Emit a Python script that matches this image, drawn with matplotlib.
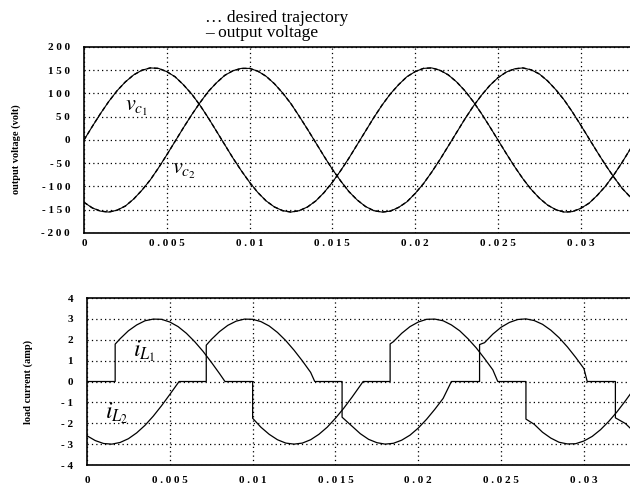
import matplotlib.pyplot as plt

# time axis (s), 0.5 ms steps, for the voltages
t = [i * 0.0005 for i in range(67)]

vc1 = [0, 29, 57, 83, 106, 125, 140, 150, 155, 154, 147, 136, 119, 99, 75, 48, 19,
       -10, -39, -66, -91, -113, -131, -144, -152, -155, -152, -144, -131, -113, -91,
       -66, -39, -10, 19, 48, 75, 99, 119, 136, 147, 154, 155, 150, 140, 125, 106, 83,
       57, 29, 0, -29, -57, -83, -106, -125, -140, -150, -155, -154, -147, -136, -119,
       -99, -75, -48, -19]
vc2 = [-134, -146, -153, -155, -151, -142, -127, -108, -86, -60, -32, -3, 26, 54, 80,
       104, 123, 139, 149, 154, 154, 148, 137, 121, 101, 78, 51, 23, -6, -35, -63, -88,
       -111, -129, -143, -152, -155, -153, -145, -133, -115, -94, -69, -42, -13, 16, 45,
       72, 96, 117, 134, 146, 153, 155, 151, 142, 127, 108, 86, 60, 32, 3, -26, -54, -80,
       -104, -123]

# load currents (with the zero hold after each crossing)
t_i1 = [0, 0.0017, 0.0017, 0.002, 0.0025, 0.003, 0.0035, 0.004, 0.0045, 0.005, 0.0055,
        0.006, 0.0065, 0.007, 0.0075, 0.008, 0.00833, 0.0100, 0.0100, 0.0105, 0.011,
        0.0115, 0.012, 0.0125, 0.013, 0.0135, 0.014, 0.0145, 0.015, 0.0155, 0.016,
        0.0165, 0.01667, 0.0183, 0.0183, 0.0185, 0.019, 0.0195, 0.02, 0.0205, 0.021,
        0.0215, 0.022, 0.0225, 0.023, 0.0235, 0.024, 0.0245, 0.0248, 0.0265, 0.0265,
        0.027, 0.0275, 0.028, 0.0285, 0.029, 0.0295, 0.03, 0.0305, 0.031, 0.0315, 0.032,
        0.0325, 0.033]
i1 = [0, 0, 1.79, 2.05, 2.43, 2.71, 2.91, 2.99, 2.98, 2.85, 2.63, 2.31, 1.91, 1.45, 0.93,
      0.38, 0, 0, -1.76, -2.19, -2.53, -2.79, -2.95, -3.0, -2.95, -2.79, -2.53, -2.19,
      -1.76, -1.28, -0.75, -0.19, 0, 0, 1.80, 1.91, 2.31, 2.63, 2.85, 2.98, 2.99, 2.91,
      2.71, 2.43, 2.05, 1.61, 1.10, 0.56, 0, 0, -1.80, -2.05, -2.43, -2.71, -2.91, -2.99,
      -2.98, -2.85, -2.63, -2.31, -1.91, -1.45, -0.93, -0.38]

t_i2 = [0, 0.0005, 0.001, 0.0015, 0.002, 0.0025, 0.003, 0.0035, 0.004, 0.0045, 0.005,
        0.00556, 0.0072, 0.0072, 0.0075, 0.008, 0.0085, 0.009, 0.0095, 0.01, 0.0105,
        0.011, 0.0115, 0.012, 0.0125, 0.013, 0.0135, 0.01375, 0.0154, 0.0154, 0.016,
        0.0165, 0.017, 0.0175, 0.018, 0.0185, 0.019, 0.0195, 0.02, 0.0205, 0.021, 0.0215,
        0.022, 0.0237, 0.0237, 0.024, 0.0245, 0.025, 0.0255, 0.026, 0.0265, 0.027,
        0.0275, 0.028, 0.0285, 0.029, 0.0295, 0.03, 0.0302, 0.0319, 0.0319, 0.0325, 0.033]
i2 = [-2.60, -2.83, -2.97, -3.0, -2.92, -2.74, -2.46, -2.10, -1.66, -1.16, -0.62, 0, 0,
      1.74, 2.01, 2.39, 2.69, 2.89, 2.99, 2.98, 2.87, 2.66, 2.35, 1.96, 1.50, 0.99, 0.44,
      0, 0, -1.71, -2.14, -2.50, -2.77, -2.93, -3.0, -2.96, -2.81, -2.57, -2.23, -1.81,
      -1.33, -0.81, 0, 0, 1.77, 1.86, 2.27, 2.60, 2.83, 2.97, 3.0, 2.92, 2.74, 2.46, 2.10,
      1.66, 1.16, 0.62, 0, 0, -1.74, -2.01, -2.39]

xticks = [0, 0.005, 0.01, 0.015, 0.02, 0.025, 0.03]
xticklabels = ['0', '0 . 0 0 5', '0 . 0 1', '0 . 0 1 5', '0 . 0 2', '0 . 0 2 5', '0 . 0 3']
vticks = [200, 150, 100, 50, 0, -50, -100, -150, -200]
vticklabels = ['2 0 0', '1 5 0', '1 0 0', '5 0', '0', '- 5 0', '- 1 0 0', '- 1 5 0', '- 2 0 0']
iticks = [4, 3, 2, 1, 0, -1, -2, -3, -4]
iticklabels = ['4', '3', '2', '1', '0', '- 1', '- 2', '- 3', '- 4']

plt.rcParams['font.family'] = 'Liberation Serif'
plt.rcParams['mathtext.fontset'] = 'stix'

fig = plt.figure(figsize=(6.3, 4.86), dpi=100)
ax1 = fig.add_axes([0.1333, 0.5206, 0.870, 0.3827])
ax2 = fig.add_axes([0.1381, 0.0432, 0.865, 0.3436])

tick_font = dict(fontsize=8, fontweight='bold')

# top: voltages
ax1.plot(t, vc1, color='black', lw=0.8)
ax1.plot(t, vc2, color='black', lw=0.8)
ax1.plot(t, vc1, color='black', lw=1.0, linestyle=(0, (3, 2)))
ax1.plot(t, vc2, color='black', lw=1.0, linestyle=(0, (3, 2)))
ax1.set_xlim(0, 0.0331)
ax1.set_ylim(-200, 200)
ax1.set_yticks(vticks)
ax1.set_yticklabels(vticklabels, **tick_font)
ax1.set_xticks(xticks)
ax1.set_xticklabels(xticklabels, **tick_font)
ax1.set_ylabel('output voltage (volt)', fontsize=7.5, fontweight='bold')
ax1.yaxis.set_label_coords(-0.115, 0.45)
ax1.text(0.0025, 67, r'$v_{c_1}$', fontsize=16, va='center')
ax1.text(0.0053, -67, r'$v_{c_2}$', fontsize=16, va='center')
fig.text(0.325, 0.963, '… desired trajectory', fontsize=12.5, ha='left', va='center')
fig.text(0.325, 0.932, '– output voltage', fontsize=12.5, ha='left', va='center')

# bottom: currents
ax2.plot(t_i1, i1, color='black', lw=0.9)
ax2.plot(t_i2, i2, color='black', lw=0.9)
ax2.set_xlim(0, 0.0329)
ax2.set_ylim(-4, 4)
ax2.set_yticks(iticks)
ax2.set_yticklabels(iticklabels, **tick_font)
ax2.set_xticks(xticks)
ax2.set_xticklabels(xticklabels, **tick_font)
ax2.set_ylabel('load current (amp)', fontsize=7.5, fontweight='bold')
ax2.yaxis.set_label_coords(-0.1, 0.5)
ax2.text(0.0028, 1.45, r'$i_{L_1}$', fontsize=17, va='center')
ax2.text(0.0011, -1.5, r'$i_{L_2}$', fontsize=17, va='center')

for ax in (ax1, ax2):
    ax.grid(True, color='black', linestyle=(0, (1, 2.5)), lw=0.9)
    ax.tick_params(length=0, pad=10, axis='y')
    ax.tick_params(length=0, pad=4, axis='x')
    for s in ax.spines.values():
        s.set_linewidth(1.2)
ax2.tick_params(axis='x', pad=8)

fig.savefig('out.png', dpi=100)
